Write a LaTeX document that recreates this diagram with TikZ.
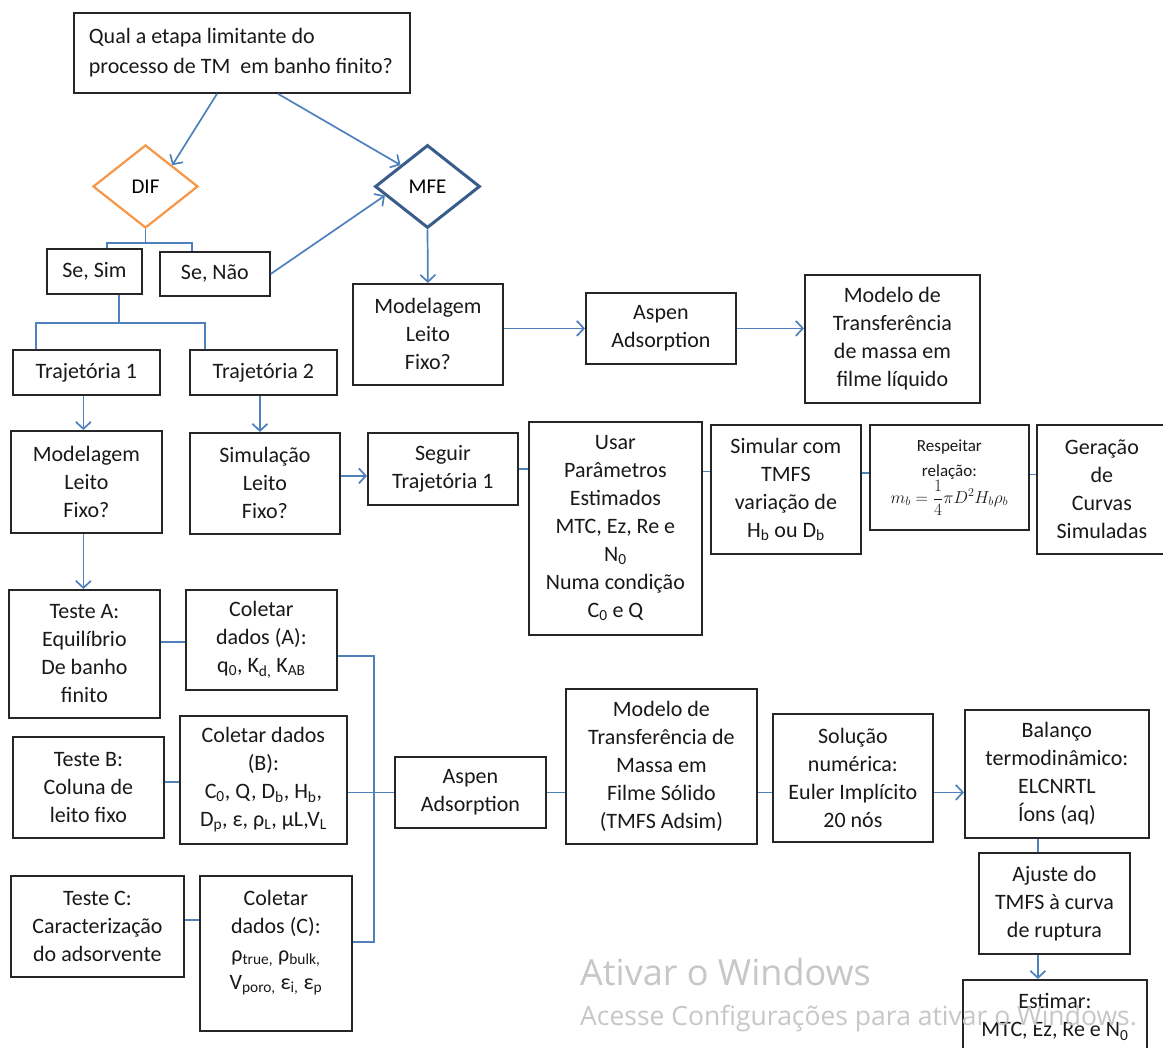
\documentclass[tikz,border=0pt]{standalone}
\usepackage{fontspec}
\setmainfont{Carlito}
\newfontfamily\wmfont{Open Sans}
\usetikzlibrary{arrows.meta,shapes.geometric,calc}
\definecolor{lnc}{HTML}{4F81BD}
\definecolor{difc}{HTML}{F79646}
\definecolor{mfec}{HTML}{385D8A}
\tikzset{
  box/.style={draw=black!85, line width=1.8pt, align=center, inner sep=2pt, text=black!90,
    font=\fontsize{22}{28}\selectfont},
  ln/.style={draw=lnc, line width=1.7pt},
  arr/.style={ln, -{Straight Barb[length=7pt,width=15pt]}},
  wm/.style={anchor=base west, inner sep=0pt, text=black!22}
}
\newcommand\mybox[7][]{\node[box,anchor=north west,minimum width={(#4)-(#2)},minimum height={(#5)-(#3)},#1] (#6) at (#2,-#3) {#7};}
\begin{document}
\begin{tikzpicture}[x=1pt,y=1pt]
\useasboundingbox (0,0) rectangle (1163,-1048);
\fill[white] (0,0) rectangle (1163,-1048);
\clip (0,0) rectangle (1163,-1048);

% nodes
\mybox[align=flush left, text width=326pt, inner xsep=5pt, font=\fontsize{22}{30}\selectfont]{73}{12}{409}{92}{Q}{\hspace*{10pt}Qual a etapa limitante do\\\hspace*{10pt}processo de TM\ \ em banho finito?}
\node[diamond, draw=difc, line width=2.2pt, minimum width=105pt, minimum height=83pt, inner sep=0pt, font=\fontsize{21}{24}\selectfont] (DIF) at (145.5,-186.5) {DIF};
\node[diamond, draw=mfec, line width=3pt, minimum width=105pt, minimum height=83pt, inner sep=0pt, font=\fontsize{21}{24}\selectfont] (MFE) at (427.5,-186.5) {MFE};

\mybox{46}{248}{141}{293}{SeSim}{Se, Sim}
\mybox{159}{251}{269}{295}{SeNao}{Se, Não}
\mybox{352}{283}{502}{384}{ModR}{Modelagem\\Leito\\Fixo?}
\mybox{585}{292}{735}{363}{AspT}{Aspen\\Adsorption}
\mybox{804}{274}{979}{402}{ModLiq}{Modelo de\\Transferência\\de massa em\\filme líquido}
\mybox{12}{349}{159}{394}{T1}{Trajetória 1}
\mybox{189}{349}{336}{394}{T2}{Trajetória 2}
\mybox{10}{430}{161}{532}{ModL}{Modelagem\\Leito\\Fixo?}
\mybox{189}{432}{339}{533}{Sim}{Simulação\\Leito\\Fixo?}
\mybox{367}{432}{517}{504}{Seg}{Seguir\\Trajetória 1}
\mybox{528}{421}{701}{634}{Usar}{Usar\\Parâmetros\\Estimados\\MTC, Ez, Re e\\N\textsubscript{0}\\Numa condição\\C\textsubscript{0} e Q}
\mybox{710}{424}{860}{553}{Simu}{Simular com\\TMFS\\variação de\\H\textsubscript{b} ou D\textsubscript{b}}
\mybox[font=\fontsize{17}{25}\selectfont]{869}{424}{1028}{529}{Resp}{Respeitar\\relação:\\$m_b=\displaystyle\frac{1}{4}\pi D^2H_b\rho_b$}
\mybox{1036}{424}{1166}{553}{Ger}{Geração\\de\\Curvas\\Simuladas}

\mybox{8}{589}{159}{717}{TA}{Teste A:\\Equilíbrio\\De banho\\finito}
\mybox{185}{589}{336}{689}{CA}{Coletar\\dados (A):\\q\textsubscript{0}, K\textsubscript{d,} K\textsubscript{AB}}
\mybox{12}{736}{163}{837}{TB}{Teste B:\\Coluna de\\leito fixo}
\mybox{179}{715}{346}{843}{CB}{Coletar dados\\(B):\\C\textsubscript{0}, Q, D\textsubscript{b}, H\textsubscript{b},\\D\textsubscript{p}, ε, ρ\textsubscript{L}, µL,V\textsubscript{L}}
\mybox{10}{875}{183}{976}{TC}{Teste C:\\Caracterização\\do adsorvente}
\mybox{199}{875}{351}{1030}{CC}{Coletar\\dados (C):\\ρ\textsubscript{true,} ρ\textsubscript{bulk,}\\V\textsubscript{poro,} ε\textsubscript{i,} ε\textsubscript{p}\\\mbox{}}
\mybox{394}{756}{545}{827}{AspB}{Aspen\\Adsorption}
\mybox{565}{688}{756}{843}{TMFS}{Modelo de\\Transferência de\\Massa em\\Filme Sólido\\(TMFS Adsim)}
\mybox{772}{713}{932}{841}{Sol}{Solução\\numérica:\\Euler Implícito\\20 nós}
\mybox{964}{709}{1148}{837}{Bal}{Balanço\\termodinâmico:\\ELCNRTL\\Íons (aq)}
\mybox{978}{852}{1129}{953}{Aj}{Ajuste do\\TMFS à curva\\de ruptura}
\mybox{962}{979}{1146}{1053}{Est}{Estimar:\\MTC, Ez, Re e N\textsubscript{0}}

% connectors
\draw[arr] ([xshift=144pt]Q.south west) -- (DIF.north east);
\draw[arr] ([xshift=205pt]Q.south west) -- (MFE.north west);
\draw[ln] (DIF.south) -- ++(0,-14) coordinate (dj);
\draw[ln] ([xshift=61pt]SeSim.north west) |- (dj) -| ([xshift=33pt]SeNao.north west);
\draw[arr] (SeNao.east) -- (MFE.192);
\draw[arr] (MFE.south) -- (ModR.north);
\draw[arr] (AspT.west -| ModR.east) -- (AspT.west);
\draw[arr] (AspT.east) -- (AspT.east -| ModLiq.west);
\draw[ln] ([xshift=73pt]SeSim.south west) -- ++(0,-28) coordinate (sj);
\draw[ln] ([xshift=24pt]T1.north west) |- (sj) -| ([xshift=16pt]T2.north west);
\draw[arr] ([xshift=-3pt]T1.south) -- ([xshift=-3pt]T1.south |- ModL.north);
\draw[arr] ([xshift=-3.5pt]T2.south) -- ([xshift=-3.5pt]T2.south |- Sim.north);
\draw[arr] ([yshift=7.5pt]Sim.east) -- ([yshift=7.5pt]Sim.east -| Seg.west);
\draw[ln] (Seg.east) -- (Seg.east -| Usar.west);
\draw[ln] ([yshift=18pt]Simu.west -| Usar.east) -- ([yshift=18pt]Simu.west);
\draw[ln] ([yshift=4.5pt]Resp.west -| Simu.east) -- ([yshift=4.5pt]Resp.west);
\draw[ln] ([yshift=3pt]Resp.east) -- ([yshift=3pt]Resp.east -| Ger.west);
\draw[arr] ([xshift=-3pt]ModL.south) -- ([xshift=-3pt]ModL.south |- TA.north);
\draw[ln] ([yshift=12pt]TA.east) -- ([yshift=12pt]TA.east -| CA.west);
\draw[ln] ([yshift=5.5pt]TB.east) -- ([yshift=5.5pt]TB.east -| CB.west);
\draw[ln] ([yshift=6.5pt]TC.east) -- ([yshift=6.5pt]TC.east -| CC.west);
\draw[ln] ([yshift=-16pt]CA.east) -- ++(36.5,0) coordinate (b1) |- ([yshift=11.5pt]CC.east);
\draw[ln] (CB.east |- AspB.west) -- (AspB.west);
\draw[ln] (AspB.east) -- (AspB.east -| TMFS.west);
\draw[ln] (TMFS.east |- AspB.east) -- (Sol.west |- AspB.east);
\draw[arr] (Sol.east |- AspB.east) -- (Bal.west |- AspB.east);
\draw[ln] ([xshift=-19pt]Bal.south) -- ([xshift=-19pt]Bal.south |- Aj.north);
\draw[arr] ([xshift=-16.5pt]Aj.south) -- ([xshift=-16.5pt]Aj.south |- Est.north);

% watermark
\node[wm, font=\wmfont\fontsize{36}{36}\selectfont] (wm1) at (580,-985) {Ativar o Windows};
\node[wm, font=\wmfont\fontsize{26.5}{26.5}\selectfont] (wm2) at (580,-1025) {Acesse Configurações para ativar o Windows.};
\end{tikzpicture}
\end{document}
